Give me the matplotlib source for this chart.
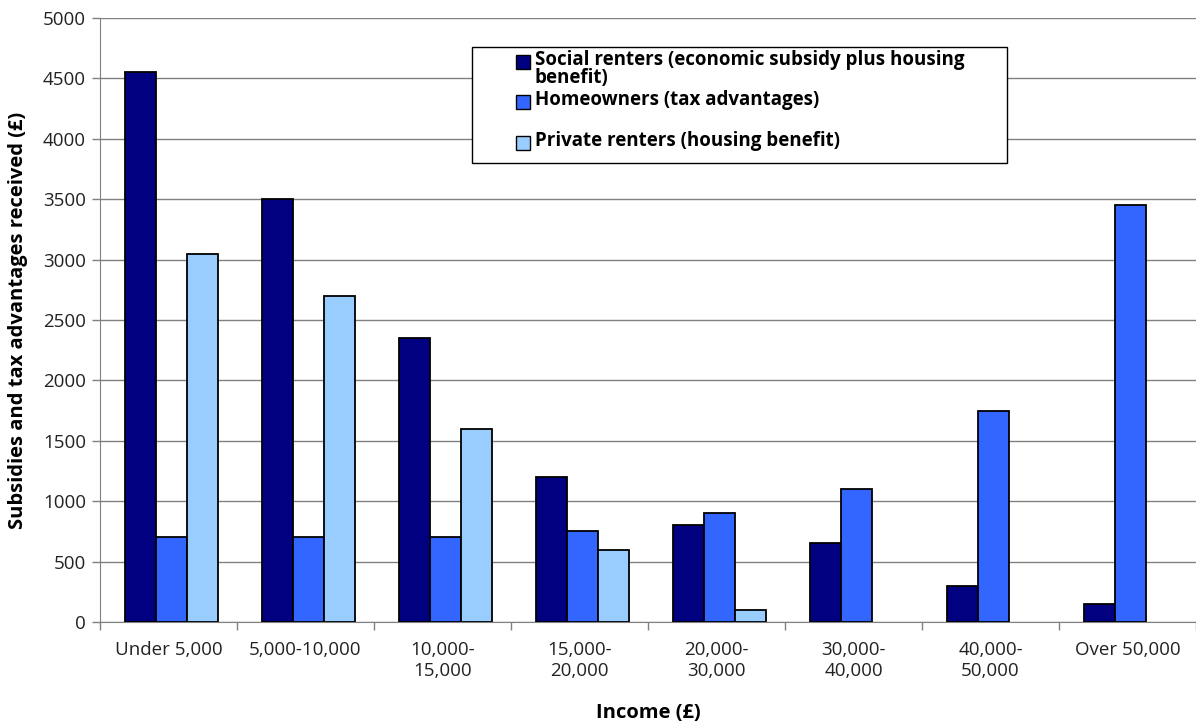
import matplotlib
matplotlib.use("Agg")
import matplotlib.pyplot as plt
import numpy as np
from matplotlib.patches import Rectangle

categories = ["Under 5,000", "5,000-10,000", "10,000-\n15,000", "15,000-\n20,000",
              "20,000-\n30,000", "30,000-\n40,000", "40,000-\n50,000", "Over 50,000"]
social = [4550, 3500, 2350, 1200, 800, 650, 300, 150]
home = [700, 700, 700, 750, 900, 1100, 1750, 3450]
private = [3050, 2700, 1600, 600, 100, 0, 0, 0]
series_names = ["Social renters (economic subsidy plus housing\nbenefit)",
                "Homeowners (tax advantages)",
                "Private renters (housing benefit)"]
colors = ["#000080", "#3366FF", "#99CCFF"]

plt.rcParams['font.family'] = ['Open Sans', 'DejaVu Sans']

fig = plt.figure(figsize=(11.96, 7.27), dpi=100)
ax = fig.add_axes([100/1196, 105/727, 1096/1196, 604/727])

x = np.arange(len(categories))
w = 0.226
for i, (vals, c) in enumerate(zip([social, home, private], colors)):
    xs = x + (i - 1) * w + 0.02
    mask = [v > 0 for v in vals]
    ax.bar(xs[mask], np.array(vals)[mask], width=w, color=c, edgecolor="black", linewidth=1.3, zorder=3)

ax.set_xlim(-0.5, len(categories) - 0.5)
ax.set_ylim(0, 5000)
ax.set_yticks(np.arange(0, 5001, 500))
ax.yaxis.grid(True, color="#808080", linewidth=1)
ax.set_axisbelow(True)
for s in ["top", "right"]:
    ax.spines[s].set_visible(False)
ax.spines["left"].set_color("#808080")
ax.spines["bottom"].set_color("#808080")
ax.tick_params(axis="y", length=6, width=1, color="#808080", labelsize=13.5, labelcolor="#222222", pad=4)
ax.set_xticks(x)
ax.set_xticklabels(categories, fontsize=13.5, color="#222222", linespacing=1.2)
ax.tick_params(axis="x", which="major", length=0, pad=14)
ax.set_xticks(np.arange(-0.5, len(categories) + 0.5, 1), minor=True)
ax.tick_params(axis="x", which="minor", length=6, width=1, color="#808080")

ax.set_ylabel("Subsidies and tax advantages received (£)", fontsize=14.5, fontweight="bold")
ax.set_xlabel("Income (£)", fontsize=14.5, fontweight="bold")
ax.yaxis.set_label_coords(-72 / 1096, 0.5)
ax.xaxis.set_label_coords(0.5, -81 / 604)

# legend (manual)
lx0, lx1 = (472 - 100) / 1096, (1007 - 100) / 1096
ly0, ly1 = (622 - 163) / 604, (622 - 47) / 604
ax.add_patch(Rectangle((lx0, ly0), lx1 - lx0, ly1 - ly0, transform=ax.transAxes,
                       facecolor="white", edgecolor="black", linewidth=1, zorder=5))
ys_px = [62, 102, 143]
sq = 14
for name, c, yp in zip(series_names, colors, ys_px):
    yc = (622 - yp) / 604
    ax.add_patch(Rectangle(((516 - 100) / 1096, yc - (sq / 2) / 604), sq / 1096, sq / 604,
                           transform=ax.transAxes, facecolor=c, edgecolor="black",
                           linewidth=1, zorder=6))
    ax.text((535 - 100) / 1096, yc + 12 / 604, name, transform=ax.transAxes, fontsize=13.5,
            fontweight="bold", va="top", ha="left", zorder=7, linespacing=0.9)

fig.savefig("out.png", dpi=100)
